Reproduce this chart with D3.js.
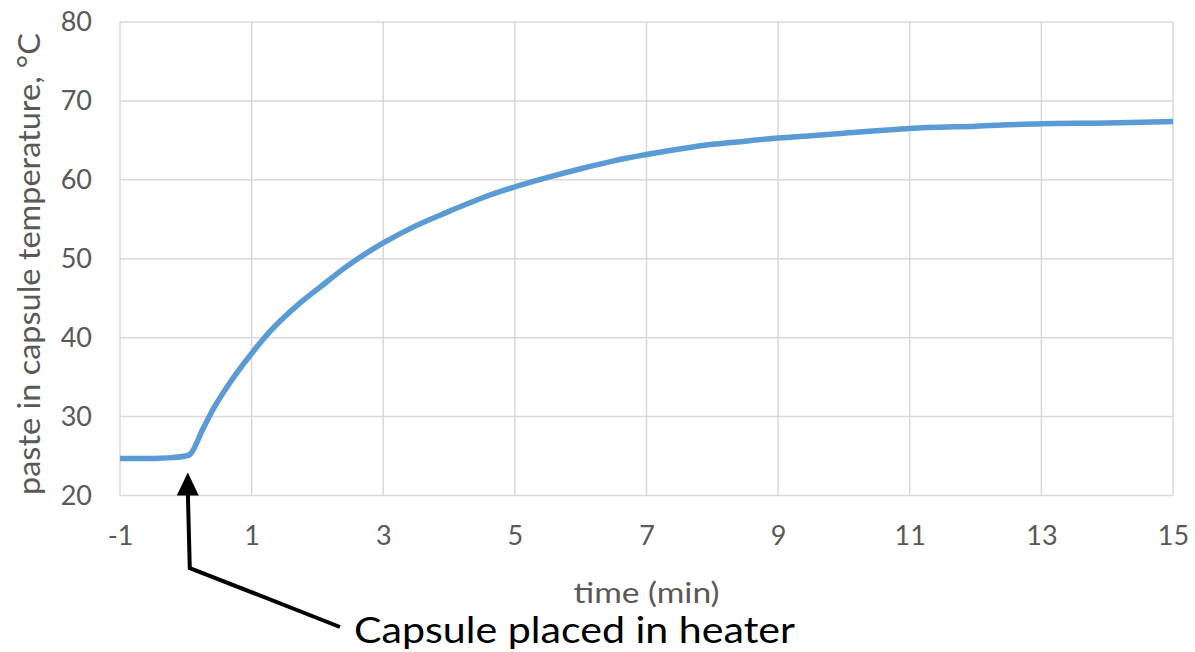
<!DOCTYPE html>
<html>
<head>
<meta charset="utf-8">
<script src="https://cdn.jsdelivr.net/npm/d3@7/dist/d3.min.js"></script>
<style>
  html, body { margin: 0; padding: 0; background: #fff; }
  svg { display: block; }
  text { font-family: Lato, "Open Sans", sans-serif; }
</style>
</head>
<body>
<svg id="chart" width="1195" height="652"></svg>
<script>
// ---- data ----
const timeMin = [-1, -0.5, -0.2, 0.04, 0.27, 0.42, 0.67, 1.0, 1.28, 1.68, 2.04, 2.44, 3.0, 3.5, 4.0, 4.5, 5.0, 5.5, 6.0, 6.5, 7.0, 7.5, 8.0, 8.5, 9.0, 9.5, 10.0, 11.0, 12.0, 13.0, 14.0, 15.0];
const tempC   = [24.7, 24.7, 24.8, 25.1, 28.6, 31.0, 34.3, 38.0, 40.8, 44.0, 46.4, 49.0, 52.0, 54.2, 56.0, 57.7, 59.1, 60.3, 61.4, 62.4, 63.2, 63.9, 64.5, 64.9, 65.3, 65.6, 65.9, 66.5, 66.8, 67.1, 67.2, 67.4];
const xTicks = [-1, 1, 3, 5, 7, 9, 11, 13, 15];
const yTicks = [20, 30, 40, 50, 60, 70, 80];
const xTitle = "time (min)";
const yTitle = "paste in capsule temperature, °C";
const annotation = "Capsule placed in heater";
const annotationTime = 0.03;

const svg = d3.select("#chart");
const W = 1195, H = 652;
const m = { left: 120, right: W - 1173, top: 22, bottom: H - 495.5 };

const x = d3.scaleLinear().domain([-1, 15]).range([m.left, W - m.right]);
const y = d3.scaleLinear().domain([20, 80]).range([H - m.bottom, m.top]);

const gridColor = "#d9d9d9";
const textColor = "#595959";
const fmt = d => String(d); // plain hyphen-minus like the reference

// grid
svg.append("g").selectAll("line").data(xTicks).join("line")
  .attr("x1", d => x(d)).attr("x2", d => x(d))
  .attr("y1", y(20)).attr("y2", y(80))
  .attr("stroke", gridColor).attr("stroke-width", 1.5);
svg.append("g").selectAll("line").data(yTicks).join("line")
  .attr("x1", x(-1)).attr("x2", x(15))
  .attr("y1", d => y(d)).attr("y2", d => y(d))
  .attr("stroke", gridColor).attr("stroke-width", 1.5);

// axes (labels only)
const xAxis = svg.append("g").attr("transform", `translate(0,${y(20)})`)
  .call(d3.axisBottom(x).tickValues(xTicks).tickSize(0).tickPadding(30).tickFormat(fmt));
xAxis.select(".domain").remove();
xAxis.selectAll("text").attr("fill", textColor).style("font-size", "27px").style("font-family", "Lato, 'Open Sans', sans-serif");

const yAxis = svg.append("g").attr("transform", `translate(${x(-1)},0)`)
  .call(d3.axisLeft(y).tickValues(yTicks).tickSize(0).tickPadding(28).tickFormat(fmt));
yAxis.select(".domain").remove();
yAxis.selectAll("text").attr("fill", textColor).style("font-size", "27px").style("font-family", "Lato, 'Open Sans', sans-serif");

// line
const line = d3.line().x((d, i) => x(timeMin[i])).y(d => y(d)).curve(d3.curveMonotoneX);
svg.append("path").datum(tempC)
  .attr("d", line)
  .attr("fill", "none")
  .attr("stroke", "#5b9bd5")
  .attr("stroke-width", 5.5)
  .attr("stroke-linejoin", "round");

// titles (Calibri-like proportions: fit to measured widths)
svg.append("text").attr("x", x(7)).attr("y", 603)
  .attr("text-anchor", "middle").attr("fill", textColor)
  .style("font-size", "29px")
  .attr("textLength", 146).attr("lengthAdjust", "spacingAndGlyphs")
  .text(xTitle);

svg.append("text")
  .attr("transform", `translate(40,${(495 + 33) / 2}) rotate(-90)`)
  .attr("text-anchor", "middle").attr("fill", textColor)
  .style("font-size", "31px")
  .attr("textLength", 462).attr("lengthAdjust", "spacingAndGlyphs")
  .text(yTitle);

// annotation arrow
const tipX = x(annotationTime), tipY = y(24.7) + 14;
const elbowY = 568;
const endX = 340, endY = 627;
svg.append("path")
  .attr("d", `M${endX},${endY} L${tipX + 2},${elbowY} L${tipX},${tipY + 18}`)
  .attr("fill", "none").attr("stroke", "#000").attr("stroke-width", 4).attr("stroke-linejoin", "miter");
svg.append("path")
  .attr("d", `M${tipX},${tipY} L${tipX - 11},${tipY + 23} L${tipX + 11},${tipY + 23} Z`)
  .attr("fill", "#000");

svg.append("text").attr("x", 354).attr("y", 643)
  .attr("fill", "#000").style("font-size", "36px")
  .attr("textLength", 441).attr("lengthAdjust", "spacingAndGlyphs")
  .text(annotation);
</script>
</body>
</html>
